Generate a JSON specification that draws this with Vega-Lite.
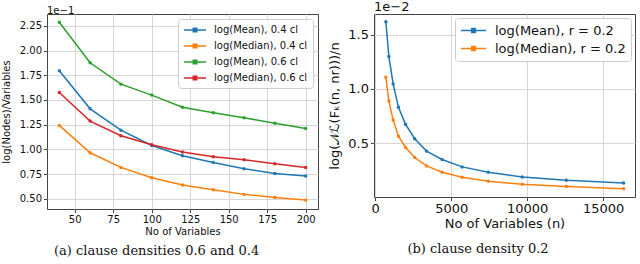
{
  "$schema": "https://vega.github.io/schema/vega-lite/v6.json",
  "padding": 0,
  "background": "white",
  "config": {
    "font": "DejaVu Sans",
    "view": {"stroke": "#444", "strokeWidth": 1},
    "axis": {"domain": false, "grid": true, "gridColor": "#d6d6d6", "gridWidth": 1, "tickColor": "#444", "tickSize": 3.5, "labelColor": "#111", "titleColor": "#111", "titleFontWeight": "normal", "labelPadding": 2},
    "legend": {"title": null, "fillColor": "rgba(255,255,255,0.85)", "strokeColor": "#cccccc", "cornerRadius": 3, "labelColor": "#111", "symbolStrokeWidth": 1.5},
    "title": {"fontWeight": "normal", "color": "#111"}
  },
  "spacing": 8,
  "resolve": {"scale": {"color": "independent"}, "legend": {"color": "independent"}},
  "datasets": {
    "left": [
      {"n": 40, "value": 1.795, "series": "log(Mean), 0.4 cl"},
      {"n": 60, "value": 1.410, "series": "log(Mean), 0.4 cl"},
      {"n": 80, "value": 1.194, "series": "log(Mean), 0.4 cl"},
      {"n": 100, "value": 1.039, "series": "log(Mean), 0.4 cl"},
      {"n": 120, "value": 0.935, "series": "log(Mean), 0.4 cl"},
      {"n": 140, "value": 0.867, "series": "log(Mean), 0.4 cl"},
      {"n": 160, "value": 0.803, "series": "log(Mean), 0.4 cl"},
      {"n": 180, "value": 0.756, "series": "log(Mean), 0.4 cl"},
      {"n": 200, "value": 0.729, "series": "log(Mean), 0.4 cl"},
      {"n": 40, "value": 1.242, "series": "log(Median), 0.4 cl"},
      {"n": 60, "value": 0.965, "series": "log(Median), 0.4 cl"},
      {"n": 80, "value": 0.817, "series": "log(Median), 0.4 cl"},
      {"n": 100, "value": 0.712, "series": "log(Median), 0.4 cl"},
      {"n": 120, "value": 0.638, "series": "log(Median), 0.4 cl"},
      {"n": 140, "value": 0.591, "series": "log(Median), 0.4 cl"},
      {"n": 160, "value": 0.544, "series": "log(Median), 0.4 cl"},
      {"n": 180, "value": 0.513, "series": "log(Median), 0.4 cl"},
      {"n": 200, "value": 0.486, "series": "log(Median), 0.4 cl"},
      {"n": 40, "value": 2.287, "series": "log(Mean), 0.6 cl"},
      {"n": 60, "value": 1.876, "series": "log(Mean), 0.6 cl"},
      {"n": 80, "value": 1.660, "series": "log(Mean), 0.6 cl"},
      {"n": 100, "value": 1.549, "series": "log(Mean), 0.6 cl"},
      {"n": 120, "value": 1.427, "series": "log(Mean), 0.6 cl"},
      {"n": 140, "value": 1.370, "series": "log(Mean), 0.6 cl"},
      {"n": 160, "value": 1.319, "series": "log(Mean), 0.6 cl"},
      {"n": 180, "value": 1.265, "series": "log(Mean), 0.6 cl"},
      {"n": 200, "value": 1.211, "series": "log(Mean), 0.6 cl"},
      {"n": 40, "value": 1.576, "series": "log(Median), 0.6 cl"},
      {"n": 60, "value": 1.286, "series": "log(Median), 0.6 cl"},
      {"n": 80, "value": 1.137, "series": "log(Median), 0.6 cl"},
      {"n": 100, "value": 1.046, "series": "log(Median), 0.6 cl"},
      {"n": 120, "value": 0.972, "series": "log(Median), 0.6 cl"},
      {"n": 140, "value": 0.925, "series": "log(Median), 0.6 cl"},
      {"n": 160, "value": 0.894, "series": "log(Median), 0.6 cl"},
      {"n": 180, "value": 0.854, "series": "log(Median), 0.6 cl"},
      {"n": 200, "value": 0.817, "series": "log(Median), 0.6 cl"}
    ],
    "right": [
      {"n": 700, "value": 1.618, "series": "log(Mean), r = 0.2"},
      {"n": 900, "value": 1.298, "series": "log(Mean), r = 0.2"},
      {"n": 1180, "value": 1.046, "series": "log(Mean), r = 0.2"},
      {"n": 1530, "value": 0.831, "series": "log(Mean), r = 0.2"},
      {"n": 2000, "value": 0.674, "series": "log(Mean), r = 0.2"},
      {"n": 2600, "value": 0.542, "series": "log(Mean), r = 0.2"},
      {"n": 3380, "value": 0.428, "series": "log(Mean), r = 0.2"},
      {"n": 4400, "value": 0.351, "series": "log(Mean), r = 0.2"},
      {"n": 5720, "value": 0.283, "series": "log(Mean), r = 0.2"},
      {"n": 7440, "value": 0.234, "series": "log(Mean), r = 0.2"},
      {"n": 9680, "value": 0.191, "series": "log(Mean), r = 0.2"},
      {"n": 12580, "value": 0.160, "series": "log(Mean), r = 0.2"},
      {"n": 16350, "value": 0.135, "series": "log(Mean), r = 0.2"},
      {"n": 700, "value": 1.108, "series": "log(Median), r = 0.2"},
      {"n": 900, "value": 0.889, "series": "log(Median), r = 0.2"},
      {"n": 1180, "value": 0.714, "series": "log(Median), r = 0.2"},
      {"n": 1530, "value": 0.566, "series": "log(Median), r = 0.2"},
      {"n": 2000, "value": 0.462, "series": "log(Median), r = 0.2"},
      {"n": 2600, "value": 0.369, "series": "log(Median), r = 0.2"},
      {"n": 3380, "value": 0.292, "series": "log(Median), r = 0.2"},
      {"n": 4400, "value": 0.234, "series": "log(Median), r = 0.2"},
      {"n": 5720, "value": 0.188, "series": "log(Median), r = 0.2"},
      {"n": 7440, "value": 0.151, "series": "log(Median), r = 0.2"},
      {"n": 9680, "value": 0.123, "series": "log(Median), r = 0.2"},
      {"n": 12580, "value": 0.102, "series": "log(Median), r = 0.2"},
      {"n": 16350, "value": 0.083, "series": "log(Median), r = 0.2"}
    ]
  },
  "hconcat": [
    {
      "title": {"text": "(a) clause densities 0.6 and 0.4", "orient": "bottom", "font": "DejaVu Serif", "fontSize": 13, "offset": 8, "anchor": "middle", "frame": "bounds", "dx": -3},
      "resolve": {"scale": {"color": "independent"}, "legend": {"color": "independent"}},
      "vconcat": [
        {
          "width": 271,
          "height": 195,
          "title": {"text": "1e−1", "anchor": "start", "frame": "group", "fontSize": 10, "offset": -2},
          "data": {"name": "left"},
          "encoding": {
            "x": {"field": "n", "type": "quantitative", "scale": {"domain": [32, 208], "nice": false, "zero": false}, "axis": {"values": [50, 75, 100, 125, 150, 175, 200], "title": "No of Variables", "labelFontSize": 10, "titleFontSize": 10, "titlePadding": 2}},
            "y": {"field": "value", "type": "quantitative", "scale": {"domain": [0.396, 2.37], "nice": false, "zero": false}, "axis": {"values": [0.5, 0.75, 1.0, 1.25, 1.5, 1.75, 2.0, 2.25], "format": ".2f", "title": "log(Nodes)/Variables", "labelFontSize": 10, "titleFontSize": 10, "titlePadding": 8}},
            "color": {"field": "series", "type": "nominal", "scale": {"domain": ["log(Mean), 0.4 cl", "log(Median), 0.4 cl", "log(Mean), 0.6 cl", "log(Median), 0.6 cl"], "range": ["#1f77b4", "#ff7f0e", "#2ca02c", "#d62728"]}, "legend": {"orient": "top-right", "offset": 5, "padding": 5, "labelFontSize": 10, "labelOffset": 19, "rowPadding": 5, "symbolSize": 100, "symbolType": "M-1,0L3.4,0M0.85,-0.35L1.55,-0.35L1.55,0.35L0.85,0.35Z"}}
          },
          "layer": [
            {"mark": {"type": "line", "strokeWidth": 1.5}},
            {"mark": {"type": "point", "filled": true, "size": 12, "opacity": 1}}
          ]
        }
      ]
    },
    {
      "title": {"text": "(b) clause density 0.2", "orient": "bottom", "font": "DejaVu Serif", "fontSize": 13, "offset": 12, "anchor": "middle", "frame": "group", "dx": 104},
      "resolve": {"scale": {"color": "independent"}, "legend": {"color": "independent"}},
      "vconcat": [
        {
          "width": 261,
          "height": 183,
          "title": {"text": "1e−2", "anchor": "start", "frame": "group", "fontSize": 13, "offset": 0},
          "data": {"name": "right"},
          "encoding": {
            "x": {"field": "n", "type": "quantitative", "scale": {"domain": [-80, 17100], "nice": false, "zero": false}, "axis": {"values": [0, 5000, 10000, 15000], "format": "d", "title": "No of Variables (n)", "labelFontSize": 13, "titleFontSize": 13, "titlePadding": 2}},
            "y": {"field": "value", "type": "quantitative", "scale": {"domain": [0.006, 1.69], "nice": false, "zero": false}, "axis": {"values": [0.5, 1.0, 1.5], "format": ".1f", "title": "log(𝒩ℒ(Fₖ(n, nr)))/n", "labelFontSize": 13, "titleFontSize": 13, "titleX": -33}},
            "color": {"field": "series", "type": "nominal", "scale": {"domain": ["log(Mean), r = 0.2", "log(Median), r = 0.2"], "range": ["#1f77b4", "#ff7f0e"]}, "legend": {"orient": "top-right", "offset": 4, "padding": 5, "labelFontSize": 13, "labelOffset": 20, "rowPadding": 3, "symbolSize": 169, "symbolType": "M-1,0L2.85,0M0.65,-0.3L1.2,-0.3L1.2,0.3L0.65,0.3Z"}}
          },
          "layer": [
            {"mark": {"type": "line", "strokeWidth": 1.5}},
            {"mark": {"type": "point", "filled": true, "size": 12, "opacity": 1}}
          ]
        }
      ]
    }
  ]
}
